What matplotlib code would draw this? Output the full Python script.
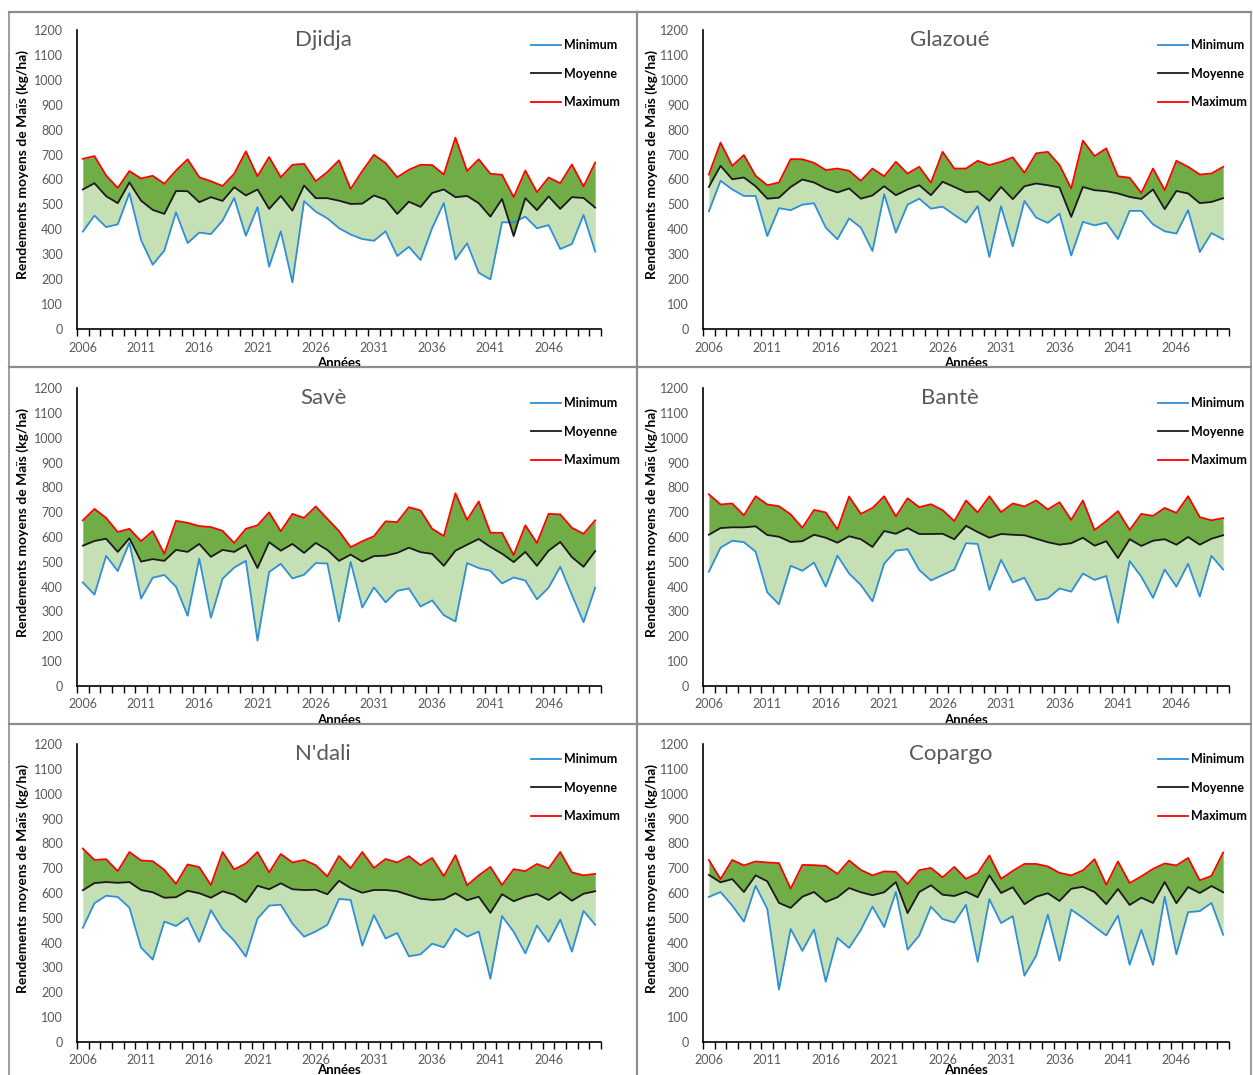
import matplotlib
matplotlib.use("Agg")
import matplotlib.pyplot as plt
from matplotlib.lines import Line2D

plt.rcParams['font.family'] = ['Lato', 'DejaVu Sans']

years = list(range(2006, 2051))

# rendements annuels (kg/ha) : minimum, moyenne, maximum par commune
djidja_min = [391, 455, 409, 420, 545, 357, 258, 315, 468, 345, 387, 381, 435, 526, 374,
              489, 250, 392, 187, 513, 471, 444, 405, 379, 361, 354, 392, 293, 330, 277,
              405, 506, 279, 344, 226, 199, 428, 428, 451, 404, 417, 321, 341, 458, 311]
djidja_moy = [560, 585, 533, 505, 588, 515, 478, 462, 554, 553, 509, 529, 514, 569, 536,
              560, 482, 534, 475, 576, 525, 525, 515, 502, 503, 536, 519, 462, 511, 490,
              546, 560, 529, 534, 505, 451, 522, 373, 525, 477, 532, 482, 529, 526, 487]
djidja_max = [683, 694, 616, 566, 634, 604, 615, 583, 636, 681, 609, 593, 574, 623, 713,
              613, 690, 609, 659, 663, 593, 630, 677, 562, 634, 699, 666, 609, 639, 659,
              658, 620, 768, 634, 681, 623, 619, 529, 636, 549, 608, 585, 660, 572, 668]

glazoue_min = [472, 595, 560, 534, 534, 373, 485, 477, 499, 505, 407, 360, 444, 407, 313,
               541, 387, 499, 523, 483, 491, 458, 427, 493, 289, 493, 332, 514, 447, 426,
               463, 295, 430, 416, 427, 361, 474, 474, 420, 392, 383, 477, 309, 385, 360]
glazoue_moy = [570, 655, 601, 608, 573, 523, 527, 570, 600, 588, 564, 548, 564, 523, 536,
               573, 537, 560, 577, 537, 591, 570, 549, 552, 514, 570, 521, 573, 584, 577,
               568, 450, 570, 557, 553, 544, 530, 522, 560, 481, 554, 544, 505, 510, 525]
glazoue_max = [620, 748, 655, 698, 615, 577, 588, 682, 681, 667, 638, 644, 635, 595, 644,
               613, 671, 624, 651, 587, 711, 644, 644, 675, 658, 671, 689, 627, 705, 711,
               658, 564, 756, 694, 725, 613, 607, 546, 644, 557, 675, 651, 620, 624, 651]

save_min = [417, 368, 524, 463, 577, 352, 436, 447, 400, 283, 513, 275, 432, 477, 504,
            183, 459, 492, 433, 448, 495, 493, 260, 500, 316, 397, 337, 383, 393, 320,
            345, 285, 260, 495, 475, 464, 413, 437, 425, 349, 396, 480, 367, 257, 396]
save_moy = [565, 584, 593, 540, 595, 501, 511, 504, 548, 540, 572, 520, 548, 540, 568,
            475, 579, 545, 572, 536, 576, 548, 504, 529, 501, 523, 525, 536, 557, 539,
            532, 484, 545, 569, 592, 560, 533, 499, 540, 484, 545, 580, 519, 480, 543]
save_max = [667, 713, 677, 620, 633, 583, 624, 532, 665, 657, 644, 640, 625, 576, 633,
            647, 699, 623, 693, 677, 723, 673, 624, 559, 583, 603, 663, 660, 720, 707,
            633, 604, 776, 669, 743, 617, 617, 527, 647, 576, 693, 691, 637, 613, 667]

bante_min = [460, 557, 585, 579, 541, 377, 329, 484, 464, 497, 400, 525, 453, 407, 341,
             493, 545, 551, 467, 425, 447, 469, 575, 572, 387, 508, 417, 436, 345, 353,
             393, 380, 453, 427, 443, 255, 503, 440, 355, 469, 400, 492, 360, 524, 469]
bante_moy = [609, 636, 639, 639, 643, 608, 601, 580, 583, 609, 597, 577, 603, 591, 560,
             624, 613, 636, 612, 612, 613, 591, 645, 620, 597, 612, 609, 607, 593, 579,
             569, 575, 597, 565, 583, 515, 591, 564, 585, 591, 569, 600, 569, 593, 607]
bante_max = [772, 731, 735, 687, 764, 731, 724, 691, 637, 709, 699, 631, 763, 693, 717,
             764, 683, 756, 720, 732, 708, 664, 747, 699, 764, 700, 735, 723, 747, 711,
             740, 669, 747, 628, 664, 704, 628, 693, 685, 717, 697, 764, 680, 667, 676]

ndali_min = [460, 559, 589, 584, 541, 380, 332, 485, 467, 500, 403, 531, 455, 408, 344,
             497, 549, 553, 477, 424, 445, 472, 576, 572, 388, 511, 417, 439, 345, 353,
             396, 381, 456, 424, 445, 255, 507, 444, 357, 469, 403, 493, 364, 528, 472]
ndali_moy = [611, 640, 644, 641, 644, 612, 603, 581, 583, 609, 599, 581, 607, 593, 563,
             629, 615, 639, 615, 612, 613, 595, 649, 620, 601, 612, 612, 607, 592, 577,
             572, 575, 599, 571, 585, 520, 595, 567, 585, 596, 572, 603, 569, 597, 607]
ndali_max = [779, 733, 736, 688, 765, 731, 728, 693, 637, 715, 704, 632, 765, 695, 719,
             765, 683, 757, 723, 733, 712, 667, 749, 700, 765, 701, 737, 723, 748, 712,
             741, 668, 752, 631, 671, 705, 632, 696, 688, 717, 699, 765, 683, 671, 677]

copargo_min = [584, 604, 549, 485, 629, 536, 211, 455, 367, 453, 243, 419, 379, 451, 545,
               463, 604, 372, 429, 545, 495, 481, 552, 323, 575, 479, 507, 267, 347, 513,
               327, 533, 500, 464, 429, 509, 311, 452, 311, 585, 353, 523, 527, 560, 432]
copargo_moy = [673, 643, 656, 604, 671, 647, 560, 540, 585, 604, 564, 583, 620, 603, 591,
               603, 644, 519, 604, 631, 593, 588, 605, 583, 671, 600, 623, 555, 585, 599,
               568, 617, 625, 604, 555, 616, 552, 581, 560, 644, 559, 624, 600, 628, 603]
copargo_max = [733, 656, 733, 711, 727, 723, 720, 617, 713, 712, 709, 677, 731, 693, 671,
               687, 685, 636, 692, 701, 663, 705, 657, 680, 751, 657, 689, 717, 717, 707,
               681, 671, 691, 736, 633, 727, 640, 667, 697, 719, 711, 741, 651, 669, 763]

communes = ["Djidja", "Glazoué", "Savè", "Bantè", "N'dali", "Copargo"]
series = [(djidja_min, djidja_moy, djidja_max),
          (glazoue_min, glazoue_moy, glazoue_max),
          (save_min, save_moy, save_max),
          (bante_min, bante_moy, bante_max),
          (ndali_min, ndali_moy, ndali_max),
          (copargo_min, copargo_moy, copargo_max)]

W, H = 1253, 1075
fig = plt.figure(figsize=(W / 100, H / 100), dpi=100)


def fx(x):
    return x / W


def fy(y):
    return 1 - y / H


# colonnes : bord gauche/droit des axes, bord droit du titre d'axe y, début de la légende
cols = [(77, 601, 29, 531), (703, 1229, 658, 1158)]
# lignes : haut/bas des axes, position du titre d'axe x
rows = [(30, 329, -0.094), (388, 686, -0.094), (744, 1042, -0.075)]

gray = '#595959'
c_light = '#C5E0B4'
c_dark = '#70AD47'
c_min = '#2F8FD5'
c_moy = '#1a1a1a'
c_max = '#FF0000'

# cadres gris autour de chaque graphique
border = '#8c8c8c'
fig.add_artist(Line2D([fx(9), fx(9)], [fy(12), 0], color=border, lw=1.2))
fig.add_artist(Line2D([fx(1251), fx(1251)], [fy(12), 0], color=border, lw=1.2))
fig.add_artist(Line2D([fx(637), fx(637)], [fy(12), 0], color=border, lw=1.6))
for yb in (12, 367, 724):
    fig.add_artist(Line2D([fx(9), fx(1251)], [fy(yb), fy(yb)], color=border, lw=1.6))

for k, name in enumerate(communes):
    r, c = divmod(k, 2)
    x0, x1, ylab_x, leg_x = cols[c]
    y_top, y_bot, xlab_y = rows[r]
    ax = fig.add_axes([fx(x0), fy(y_bot), fx(x1) - fx(x0), (y_bot - y_top) / H])
    vmin, vmoy, vmax = series[k]

    ax.fill_between(years, vmin, vmoy, color=c_light, lw=0)
    ax.fill_between(years, vmoy, vmax, color=c_dark, lw=0)
    l1, = ax.plot(years, vmin, color=c_min, lw=1.3, label='Minimum')
    l2, = ax.plot(years, vmoy, color=c_moy, lw=1.3, label='Moyenne')
    l3, = ax.plot(years, vmax, color=c_max, lw=1.3, label='Maximum')

    ax.set_xlim(2005.5, 2050.5)
    ax.set_ylim(0, 1200)
    ax.set_yticks(range(0, 1201, 100))
    ax.set_xticks(range(2006, 2051, 5))
    ax.set_xticks([2005.5 + i for i in range(46)], minor=True)
    ax.tick_params(axis='x', which='major', length=0, pad=9, labelsize=9, labelcolor=gray)
    ax.tick_params(axis='x', which='minor', length=5, width=1, direction='out')
    ax.tick_params(axis='y', length=0, pad=10, labelsize=9, labelcolor=gray)
    for s in ('top', 'right'):
        ax.spines[s].set_visible(False)
    ax.spines['left'].set_linewidth(1.2)
    ax.spines['bottom'].set_linewidth(1.2)

    ax.set_ylabel('Rendements moyens de Maïs (kg/ha)', fontsize=10, fontweight='bold')
    ax.yaxis.set_label_coords((ylab_x - x0) / (x1 - x0), 0.55)
    ax.set_xlabel('Années', fontsize=9.5, fontweight='bold')
    ax.xaxis.set_label_coords(0.5, xlab_y)

    ax.text(0.47, (y_bot - (y_top + 10)) / (y_bot - y_top), name, transform=ax.transAxes,
            ha='center', va='center', fontsize=16, color=gray)

    ax.legend(handles=[l1, l2, l3], loc='upper left', frameon=False,
              bbox_to_anchor=(fx(leg_x), fy(y_top + 9)), bbox_transform=fig.transFigure,
              borderaxespad=0, borderpad=0,
              prop={'weight': 'bold', 'size': 9}, handlelength=2.4, handletextpad=0.22,
              labelspacing=1.33)

fig.savefig('out.png', dpi=100)
